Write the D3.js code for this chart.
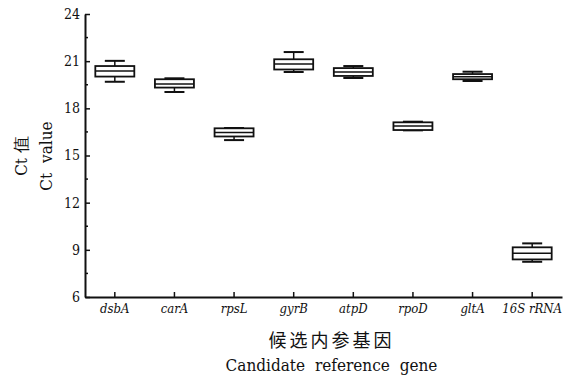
<!DOCTYPE html>
<html>
<head>
<meta charset="utf-8">
<script src="https://cdn.jsdelivr.net/npm/d3@7"></script>
<style>
  body { margin: 0; background: #fff; }
  text { font-family: "DejaVu Serif Condensed", "DejaVu Serif", serif; font-stretch: condensed; fill: #111; }
</style>
</head>
<body>
<svg id="chart" width="574" height="378"></svg>
<script>
const genes = ['dsbA', 'carA', 'rpsL', 'gyrB', 'atpD', 'rpoD', 'gltA', '16S rRNA'];
const whiskerLow = [19.69, 19.04, 15.98, 20.31, 19.93, 16.60, 19.74, 8.24];
const q1 = [20.02, 19.32, 16.21, 20.47, 20.06, 16.62, 19.85, 8.39];
const median = [20.37, 19.55, 16.47, 20.82, 20.31, 16.88, 20.01, 8.78];
const q3 = [20.69, 19.85, 16.73, 21.12, 20.56, 17.11, 20.18, 9.16];
const whiskerHigh = [21.02, 19.91, 16.75, 21.58, 20.69, 17.15, 20.33, 9.41];
const yTicks = [6, 9, 12, 15, 18, 21, 24];

const serif = '"DejaVu Serif Condensed", "DejaVu Serif", serif';
const svg = d3.select('#chart');
const plotLeft = 85, plotRight = 562, plotTop = 14, plotBottom = 297;

const x = d3.scaleBand().domain(genes).range([plotLeft, plotRight]).padding(0);
const y = d3.scaleLinear().domain([6, 24]).range([plotBottom, plotTop]);

// minor ticks on y
const minor = d3.range(7.5, 24, 3);
svg.append('g').selectAll('line').data(minor).enter().append('line')
  .attr('x1', plotLeft).attr('x2', plotLeft + 3)
  .attr('y1', d => y(d)).attr('y2', d => y(d))
  .attr('stroke', '#111').attr('stroke-width', 1.5);

const yAxis = svg.append('g')
  .attr('transform', `translate(${plotLeft},0)`)
  .call(d3.axisLeft(y).tickValues(yTicks).tickSizeInner(-5).tickSizeOuter(0).tickPadding(5));
yAxis.attr('font-family', null).attr('font-size', null);
yAxis.selectAll('text').style('font-family', serif).style('font-size', '14px');

const xAxis = svg.append('g')
  .attr('transform', `translate(0,${plotBottom})`)
  .call(d3.axisBottom(x).tickSizeInner(-5).tickSizeOuter(0).tickPadding(7));
xAxis.attr('font-family', null).attr('font-size', null);
xAxis.selectAll('text').style('font-family', serif).style('font-size', '13px').style('font-style', 'italic');

[yAxis, xAxis].forEach(a => {
  a.select('.domain').attr('stroke', '#111').attr('stroke-width', 2);
  a.selectAll('.tick line').attr('stroke', '#111').attr('stroke-width', 1.5);
});

// boxes
const boxW = 39, capW = 20;
const boxes = svg.append('g').selectAll('g').data(genes).enter().append('g')
  .attr('transform', d => `translate(${x(d) + x.bandwidth() / 2},0)`);

boxes.append('line')
  .attr('x1', 0).attr('x2', 0)
  .attr('y1', (d, i) => y(whiskerHigh[i])).attr('y2', (d, i) => y(whiskerLow[i]))
  .attr('stroke', '#111').attr('stroke-width', 1.5);
boxes.append('line')
  .attr('x1', -capW / 2).attr('x2', capW / 2)
  .attr('y1', (d, i) => y(whiskerHigh[i])).attr('y2', (d, i) => y(whiskerHigh[i]))
  .attr('stroke', '#111').attr('stroke-width', 2);
boxes.append('line')
  .attr('x1', -capW / 2).attr('x2', capW / 2)
  .attr('y1', (d, i) => y(whiskerLow[i])).attr('y2', (d, i) => y(whiskerLow[i]))
  .attr('stroke', '#111').attr('stroke-width', 2);
boxes.append('rect')
  .attr('x', -boxW / 2).attr('width', boxW)
  .attr('y', (d, i) => y(q3[i])).attr('height', (d, i) => y(q1[i]) - y(q3[i]))
  .attr('fill', '#fff').attr('stroke', '#111').attr('stroke-width', 1.8);
boxes.append('line')
  .attr('x1', -boxW / 2).attr('x2', boxW / 2)
  .attr('y1', (d, i) => y(median[i])).attr('y2', (d, i) => y(median[i]))
  .attr('stroke', '#111').attr('stroke-width', 1.5);

// axis titles
const cx = (plotLeft + plotRight) / 2 + 8;
svg.append('text').attr('x', cx).attr('y', 347).attr('text-anchor', 'middle')
  .style('font-family', '"Noto Sans CJK SC", sans-serif').style('font-size', '18px')
  .style('letter-spacing', '3px').text('候选内参基因');
svg.append('text').attr('x', cx).attr('y', 371).attr('text-anchor', 'middle')
  .style('font-size', '17px').style('word-spacing', '5px')
  .text('Candidate reference gene');

svg.append('text').attr('transform', 'translate(27,156) rotate(-90)').attr('text-anchor', 'middle')
  .style('font-size', '17px').text('Ct 值');
svg.append('text').attr('transform', 'translate(52,156) rotate(-90)').attr('text-anchor', 'middle')
  .style('font-size', '17px').style('word-spacing', '5px').text('Ct value');
</script>
</body>
</html>
